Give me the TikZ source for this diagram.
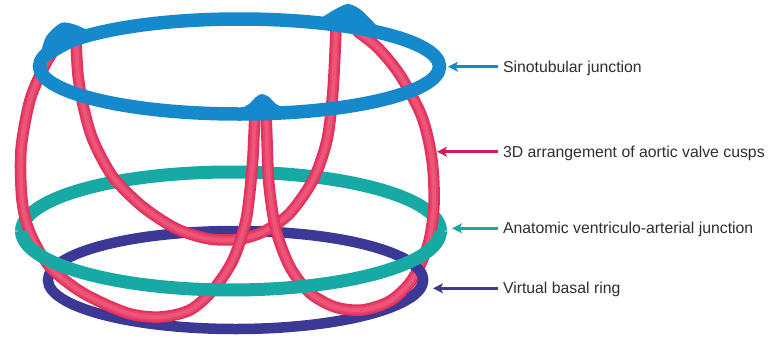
\documentclass[tikz,border=0pt]{standalone}
\usepackage{fontspec}
\setmainfont{Liberation Sans}
\usetikzlibrary{arrows.meta}

% ring and cusp colours
\definecolor{stjblue}{HTML}{1689CD}
\definecolor{vajteal}{HTML}{17AAA4}
\definecolor{basalnavy}{HTML}{3B3896}
\definecolor{cuspdark}{HTML}{E0305C}
\definecolor{cuspmid}{HTML}{E8426B}
\definecolor{cusplight}{HTML}{EE5679}
\definecolor{cusparrow}{HTML}{D81A5A}
\definecolor{labeltext}{HTML}{2E2E2E}

\begin{document}
\begin{tikzpicture}[x=1pt,y=-1pt,
  tube/.style={draw=cusplight, line width=4pt, line cap=round,
    preaction={draw=cuspdark, line width=11.5pt, line cap=round},
    preaction={draw=cuspmid, line width=8pt, line cap=round}},
  lbl/.style={anchor=west, inner sep=0pt, outer sep=0pt, text=labeltext,
    font=\fontsize{15.8pt}{18pt}\selectfont, text height=11.3pt, text depth=0pt},
  pointer/.style={line width=3pt, -{Stealth[length=10pt,width=10pt,inset=2.5pt]}}
]
\useasboundingbox (0,0) rectangle (772,341);

% virtual basal ring
\draw[basalnavy, line width=10.5pt] (235.5,280) ellipse [x radius=187.5, y radius=49];

% back half of the ventriculo-arterial junction
\draw[vajteal, line width=13pt]
  plot[domain=0:180, samples=90, variable=\t] ({231+209.5*cos(\t)}, {231-59*sin(\t)});

% the three cusps
\draw[tube] plot[smooth] coordinates {(76,42) (78,75) (83,105) (93,140) (113,177) (143,207)
  (177,229) (210,239) (240,239) (265,231) (290,213) (313,180) (327,140) (333,90) (336,30)};
\draw[tube] plot[smooth] coordinates {(58,44) (45,65) (30,100) (21,150) (22,200) (30,233)
  (50,267) (83,293) (127,313) (160,317) (190,310) (213,290) (233,260) (246,220) (252,170)
  (254,135) (255,112)};
\draw[tube] plot[smooth] coordinates {(266,112) (267,140) (269,185) (276,230) (290,267)
  (310,293) (335,307) (362,310) (390,301) (412,280) (428,245) (434,205) (432,160)
  (422,117) (400,75) (378,48) (358,32)};

% right end of the basal ring passes in front
\draw[basalnavy, line width=10.5pt]
  plot[domain=-22:28, samples=30, variable=\t] ({235.5+187.5*cos(\t)}, {280-49*sin(\t)});

% front half of the ventriculo-arterial junction
\draw[vajteal, line width=13pt]
  plot[domain=180:360, samples=90, variable=\t] ({231+209.5*cos(\t)}, {231-59*sin(\t)});

% sinotubular junction with its three commissural peaks
\draw[stjblue, line width=13.5pt] (239.5,66.5) ellipse [x radius=200, y radius=47.5];
\fill[stjblue] plot[smooth] coordinates {(40,57) (46,37) (61,23) (76,25) (93,33)}
  -- (82,42) -- (50,60) -- cycle;
\fill[stjblue] plot[smooth] coordinates {(318,20) (334,10) (348,4) (361,10) (377,26)}
  -- (360,30) -- (335,26) -- cycle;
\fill[stjblue] plot[smooth] coordinates {(238,110) (249,104) (256,97) (262,94) (269,97)
  (276,104) (288,110)} -- (262,116) -- cycle;

% labels and pointers
\coordinate (stjtip) at (448,66.7);
\coordinate (cusptip) at (437,151.7);
\coordinate (vajtip) at (452,228.3);
\coordinate (basaltip) at (433,288.3);

\node[lbl] (stj) at (503,66.7) {Sinotubular junction};
\node[lbl] (cusps) at (503,151.7) {3D arrangement of aortic valve cusps};
\node[lbl] (vaj) at (503,228.3) {Anatomic ventriculo-arterial junction};
\node[lbl] (basal) at (503,288.3) {Virtual basal ring};

\draw[pointer, stjblue] ([xshift=-5pt]stj.west) -- (stjtip);
\draw[pointer, cusparrow] ([xshift=-5pt]cusps.west) -- (cusptip);
\draw[pointer, vajteal] ([xshift=-5pt]vaj.west) -- (vajtip);
\draw[pointer, basalnavy] ([xshift=-5pt]basal.west) -- (basaltip);
\end{tikzpicture}
\end{document}
